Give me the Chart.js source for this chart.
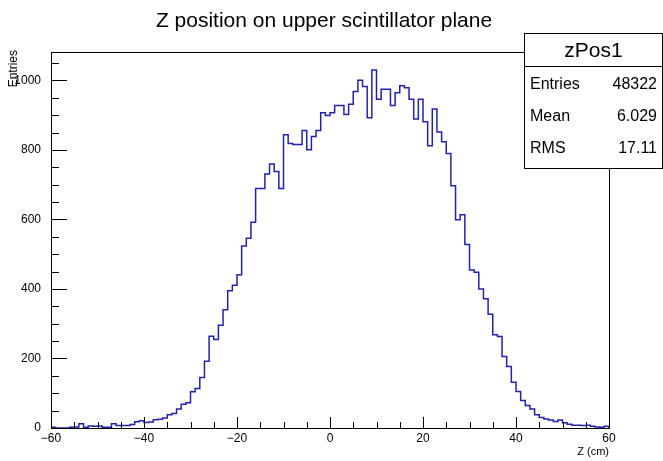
<!DOCTYPE html>
<html>
<head>
<meta charset="utf-8">
<script src="https://cdn.jsdelivr.net/npm/chart.js@4.4.0/dist/chart.umd.min.js"></script>
<style>
  body { margin: 0; background: #fff; }
  #wrap { width: 663px; height: 461px; }
</style>
</head>
<body>
<div id="wrap"><canvas id="zPosChart" width="663" height="461"></canvas></div>
<script>
// zPos1: Z position on the upper scintillator plane, 1 cm bins from -60 to 60
const histName = 'zPos1';
const zRange = [-60, 60];
const binWidth = 1;
const zCounts = [
  2, 0, 0, 0, 2, 3, 12, 2, 6, 5,
  6, 2, 2, 12, 7, 7, 7, 10, 18, 21,
  16, 17, 24, 25, 29, 38, 42, 55, 68, 73,
  104, 114, 145, 192, 264, 255, 296, 340, 395, 411,
  441, 524, 546, 592, 689, 689, 731, 760, 738, 689,
  844, 819, 816, 816, 856, 801, 839, 856, 907, 899,
  907, 928, 928, 902, 932, 968, 1001, 983, 893, 1030,
  946, 975, 975, 928, 965, 985, 979, 946, 889, 946,
  881, 812, 918, 852, 824, 790, 697, 599, 614, 528,
  455, 448, 400, 372, 327, 268, 263, 206, 177, 132,
  105, 79, 65, 55, 38, 30, 26, 23, 19, 23,
  15, 11, 8, 8, 7, 8, 5, 3, 2, 5
];
const statLabels = ['Entries', 'Mean', 'RMS'];
const statValues = ['48322', '6.029', '17.11'];
const yMax = 1082;

const FONT = '"Liberation Sans", Arial, Helvetica, sans-serif';

// outline of the histogram as step points on the bin edges
function histPoints(counts, lo, w) {
  const pts = [{x: lo, y: 0}];
  counts.forEach((c, i) => pts.push({x: lo + i * w, y: c}));
  const hi = lo + counts.length * w;
  pts.push({x: hi, y: counts[counts.length - 1]});
  pts.push({x: hi, y: 0});
  return pts;
}

const rootFrame = {
  id: 'rootFrame',
  afterDraw(chart) {
    const ctx = chart.ctx;
    const a = chart.chartArea;
    const xs = chart.scales.x, ys = chart.scales.y;
    ctx.save();
    ctx.strokeStyle = '#000';
    ctx.lineWidth = 1;

    // frame
    ctx.strokeRect(Math.round(a.left) + 0.5, Math.round(a.top) + 0.5,
                   Math.round(a.right - a.left), Math.round(a.bottom - a.top));

    // x ticks, inside the frame
    ctx.beginPath();
    for (let v = zRange[0]; v <= zRange[1]; v += 5) {
      const px = Math.round(xs.getPixelForValue(v)) + 0.5;
      const len = v % 20 === 0 ? 11 : 6;
      ctx.moveTo(px, a.bottom);
      ctx.lineTo(px, a.bottom - len);
    }
    // y ticks
    for (let v = 0; v <= yMax; v += 50) {
      const py = Math.round(ys.getPixelForValue(v)) + 0.5;
      const len = v % 200 === 0 ? 16 : 8;
      ctx.moveTo(a.left, py);
      ctx.lineTo(a.left + len, py);
    }
    ctx.stroke();

    // axis titles
    ctx.fillStyle = '#000';
    ctx.font = '11px ' + FONT;
    ctx.textAlign = 'right';
    ctx.textBaseline = 'alphabetic';
    ctx.fillText('Z (cm)', a.right, 455);
    ctx.save();
    ctx.font = '12px ' + FONT;
    ctx.translate(17, a.top - 2);
    ctx.rotate(-Math.PI / 2);
    ctx.fillText('Entries', 0, 0);
    ctx.restore();

    // title
    ctx.font = '21px ' + FONT;
    ctx.textAlign = 'center';
    ctx.fillText('Z position on upper scintillator plane', 324, 27);

    // stats box
    const bx = 524.5, by = 33.5, bw = 138, bh = 135;
    ctx.fillStyle = '#fff';
    ctx.fillRect(bx, by, bw, bh);
    ctx.strokeRect(bx, by, bw, bh);
    ctx.beginPath();
    ctx.moveTo(bx, 66.5);
    ctx.lineTo(bx + bw, 66.5);
    ctx.stroke();
    ctx.fillStyle = '#000';
    ctx.font = '21px ' + FONT;
    ctx.textAlign = 'center';
    ctx.textBaseline = 'middle';
    ctx.fillText(histName, bx + bw / 2, 51);
    ctx.font = '16px ' + FONT;
    statLabels.forEach((lab, i) => {
      const ty = 85 + i * 32;
      ctx.textAlign = 'left';
      ctx.fillText(lab, 530, ty);
      ctx.textAlign = 'right';
      ctx.fillText(statValues[i], 657, ty);
    });
    ctx.restore();
  }
};

new Chart(document.getElementById('zPosChart').getContext('2d'), {
  type: 'line',
  data: {
    datasets: [{
      label: histName,
      data: histPoints(zCounts, zRange[0], binWidth),
      stepped: 'before',
      borderColor: '#2222aa',
      borderWidth: 1.5,
      pointRadius: 0,
      fill: false,
      tension: 0
    }]
  },
  options: {
    responsive: false,
    animation: false,
    layout: { padding: { left: 0, top: 52, right: 54, bottom: 0 } },
    plugins: {
      legend: { display: false },
      tooltip: { enabled: false }
    },
    scales: {
      x: {
        type: 'linear',
        min: zRange[0],
        max: zRange[1],
        afterFit(scale) { scale.height = 33; },
        grid: { display: false, drawTicks: false },
        border: { display: false },
        ticks: {
          stepSize: 20,
          padding: 3,
          maxRotation: 0,
          color: '#000',
          font: { family: FONT, size: 12 },
          callback: v => (v < 0 ? '\u2212' + Math.abs(v) : String(v))
        }
      },
      y: {
        min: 0,
        max: yMax,
        afterFit(scale) { scale.width = 51; },
        grid: { display: false, drawTicks: false },
        border: { display: false },
        ticks: {
          stepSize: 200,
          padding: 10,
          color: '#000',
          font: { family: FONT, size: 12 },
          callback: v => (v % 200 === 0 ? String(v) : '')
        }
      }
    }
  },
  plugins: [rootFrame]
});
</script>
</body>
</html>
